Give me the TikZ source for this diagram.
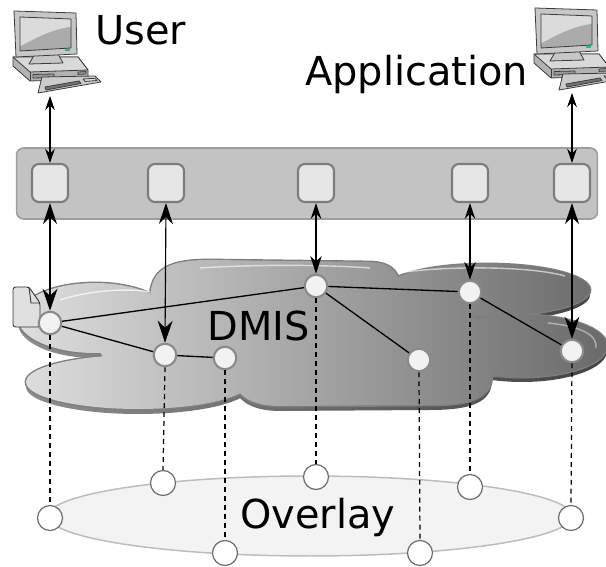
\documentclass[tikz,border=0pt]{standalone}
\usepackage{fontspec}
\setmainfont{DejaVu Sans}
\usetikzlibrary{arrows.meta}

\definecolor{barfill}{HTML}{C3C3C3}
\definecolor{barline}{HTML}{9E9E9E}
\definecolor{boxfill}{HTML}{E6E6E6}
\definecolor{boxline}{HTML}{7C7C7C}
\definecolor{cloudL}{HTML}{DEDEDE}
\definecolor{cloudR}{HTML}{6A6A6A}
\definecolor{shadowL}{HTML}{8E8E8E}
\definecolor{shadowR}{HTML}{444444}
\definecolor{cloudline}{HTML}{7E7E7E}
\definecolor{peerfill}{HTML}{F2F2F2}
\definecolor{peerline}{HTML}{8A8A8A}
\definecolor{ovfill}{HTML}{F3F3F3}
\definecolor{ovline}{HTML}{BDBDBD}
\definecolor{ovnode}{HTML}{6E6E6E}
\definecolor{iconline}{HTML}{3A3A3A}
\definecolor{led}{HTML}{22C07E}

% blobs that together make up the DMIS cloud
\newcommand\cloudblobs{%
  (95,318) ellipse [x radius=77, y radius=35]
  (138,382) ellipse [x radius=112, y radius=27]
  (150,350) ellipse [x radius=50, y radius=20]
  (487,290) ellipse [x radius=103, y radius=26]
  (522,346) ellipse [x radius=85, y radius=31]
  (150,300) .. controls (150,268) and (170,260) .. (210,260)
  -- (370,262) .. controls (395,263) and (400,275) .. (400,290)
  -- (480,320) -- (492,375) .. controls (492,398) and (470,405) .. (430,405)
  -- (280,406) .. controls (255,406) and (240,398) .. (235,385)
  -- (200,360) -- (150,340) -- cycle}

\tikzset{
  lbl/.style={font=\fontsize{22.7pt}{27pt}\selectfont, inner sep=0pt, text=black},
  pbox/.style={draw=boxline, fill=boxfill, line width=1.2pt, rounded corners=0.14cm,
    minimum width=0.72cm, minimum height=0.76cm, inner sep=0pt},
  peer/.style={circle, draw=peerline, fill=peerfill, line width=1.2pt,
    minimum size=0.45cm, inner sep=0pt},
  ovpeer/.style={circle, draw=ovnode, fill=white, line width=0.7pt,
    minimum size=0.5cm, inner sep=0pt},
  link/.style={draw=black, line width=0.65pt},
  bigarrows/.style={link, arrows={Stealth[length=12pt,width=8pt,inset=4pt]-Stealth[length=12.5pt,width=8.5pt,inset=4pt]}},
  midarrows/.style={link, arrows={Stealth[length=9pt,width=6pt,inset=3pt]-Stealth[length=10pt,width=6.5pt,inset=3pt]}},
  smallarrows/.style={link, arrows={Stealth[length=8pt,width=5.5pt,inset=2.6pt]-Stealth[length=8pt,width=5.5pt,inset=2.6pt]}},
  edge/.style={draw=black, line width=0.75pt},
  dline/.style={draw=black, line width=0.7pt, dash pattern=on 2.8pt off 2.3pt},
  icon/.style={draw=iconline, line width=0.45pt, line join=round},
  desk/.pic={
    % system unit
    \filldraw[icon, fill=black!30] (13,57) -- (78,57) -- (88,70) -- (88,79) -- (30,81) -- (13,66) -- cycle;
    \filldraw[icon, fill=black!15] (13,57) -- (78,57) -- (88,70) -- (30,72) -- cycle;
    \draw[icon] (30,72) -- (30,81);
    \filldraw[icon, fill=black!40] (33,74.5) -- (54,74) -- (54,77.5) -- (33,78) -- cycle;
    \filldraw[icon, fill=black!40] (78,72) -- (86,71.6) -- (86,74) -- (78,74.4) -- cycle;
    % stand
    \filldraw[icon, fill=black!22] (36,52) -- (57,52) -- (63,63) -- (29,64) -- cycle;
    % monitor
    \filldraw[icon, fill=black!22] (14,11) -- (76,13) -- (77,54) -- (16,57) -- cycle;
    \filldraw[icon, fill=black!33] (20,17) -- (71,19) -- (71,48) -- (20,51) -- cycle;
    \fill[black!14] (20.6,17.7) -- (70.4,19.6) -- (70.4,27) .. controls (52,29) and (36,38) .. (20.6,46) -- cycle;
    \fill[led] (65,49.2) rectangle (70,51.2);
    % keyboard tray
    \filldraw[icon, fill=black!20] (42,77) -- (95,76) -- (101,82) -- (38,93) -- cycle;
    \filldraw[icon, fill=black!55] (45,87) -- (79,81) -- (81,83.5) -- (46,90) -- cycle;
    \filldraw[icon, fill=black!12] (83,79) -- (95,78.3) -- (97,80.5) -- (85,81.5) -- cycle;
  }
}

\begin{document}
\begin{tikzpicture}[x=0.02cm, y=-0.02cm]
\useasboundingbox (0,0) rectangle (606,567);

% workstations
\pic at (0,0) {desk};
\pic at (521,-3) {desk};
\coordinate (ukb) at (50,96);
\coordinate (akb) at (572,93);
\node[lbl, anchor=base west] (user) at (95,45) {User};
\node[lbl, anchor=base west] (app) at (305,86) {Application};

% interface bar with its access points
\node[draw=barline, fill=barfill, line width=0.9pt, rounded corners=0.14cm,
  minimum width=11.62cm, minimum height=1.42cm, inner sep=0pt] (bar) at (307,183.5) {};
\node[pbox] (b1) at (50,183) {};
\node[pbox] (b2) at (166,183) {};
\node[pbox] (b3) at (316,183) {};
\node[pbox] (b4) at (470,183) {};
\node[pbox] (b5) at (572,183) {};

% overlay ring
\draw[fill=ovfill, draw=ovline, line width=0.85pt] (310,516) ellipse [x radius=262, y radius=40];

% DMIS cloud: shadow, outline, shaded body
\shade[shift={(0,5)}, left color=shadowL, right color=shadowR] \cloudblobs;
\draw[draw=cloudline, line width=1.6pt] \cloudblobs;
\shade[left color=cloudL, right color=cloudR] \cloudblobs;
% glossy highlights
\draw[white, opacity=0.7, line width=0.8pt] (60,300) .. controls (90,290) and (130,288) .. (150,292);
\draw[white, opacity=0.6, line width=0.8pt] (200,268) .. controls (260,264) and (330,265) .. (370,268);
\draw[white, opacity=0.6, line width=0.8pt] (405,272) .. controls (450,266) and (530,266) .. (565,276);
\draw[white, opacity=0.45, line width=0.8pt] (548,323) .. controls (580,326) and (598,335) .. (596,348);

% document icon
\filldraw[draw=black!80, fill=black!12, line width=0.5pt, rounded corners=1.5pt]
  (18,287) -- (29,287) -- (40,303) -- (40,327) -- (13,327) -- (13,287) -- cycle;
\draw[draw=black!80, line width=0.5pt] (29,287) -- (31,303) -- (40,303);

% peers inside the cloud
\node[peer] (pa) at (50,323) {};
\node[peer] (pb) at (165,355) {};
\node[peer] (pf) at (225,358) {};
\node[peer] (pc) at (316,286) {};
\node[peer] (pd) at (470,292) {};
\node[peer] (pg) at (419,360) {};
\node[peer] (pe) at (572,351) {};

\draw[edge] (pa) -- (pc);
\draw[edge] (pa) -- (pb);
\draw[edge] (pb) -- (pf);
\draw[edge] (pc) -- (pd);
\draw[edge] (pc) -- (pg);
\draw[edge] (pd) -- (pe);

% overlay peers
\node[ovpeer] (oa) at (50,518) {};
\node[ovpeer] (ob) at (163,483) {};
\node[ovpeer] (of) at (225,553) {};
\node[ovpeer] (oc) at (316,477) {};
\node[ovpeer] (og) at (420,553) {};
\node[ovpeer] (od) at (470,487) {};
\node[ovpeer] (oe) at (571,518) {};

\draw[dline] (pa.south) -- (oa.north);
\draw[dline] (pb.south) -- (ob.north);
\draw[dline] (pf.south) -- (of.north);
\draw[dline] (pc.south) -- (oc.north);
\draw[dline] (pg.south) -- (og.north);
\draw[dline] (pd.south) -- (od.north);
\draw[dline] (pe.south) -- (oe.north);

% request paths
\draw[smallarrows] (ukb) -- (b1.north);
\draw[smallarrows] (akb) -- (b5.north);
\draw[bigarrows] (b1.south) -- (pa.north);
\draw[bigarrows] (b2.south) -- (pb.north);
\draw[midarrows] (b3.south) -- (pc.north);
\draw[midarrows] (b4.south) -- (pd.north);
\draw[bigarrows] (b5.south) -- (pe.north);

\node[lbl, anchor=base west] (dmis) at (207,341) {DMIS};
\node[lbl, anchor=base west] (overlay) at (240,529) {Overlay};
\end{tikzpicture}
\end{document}
